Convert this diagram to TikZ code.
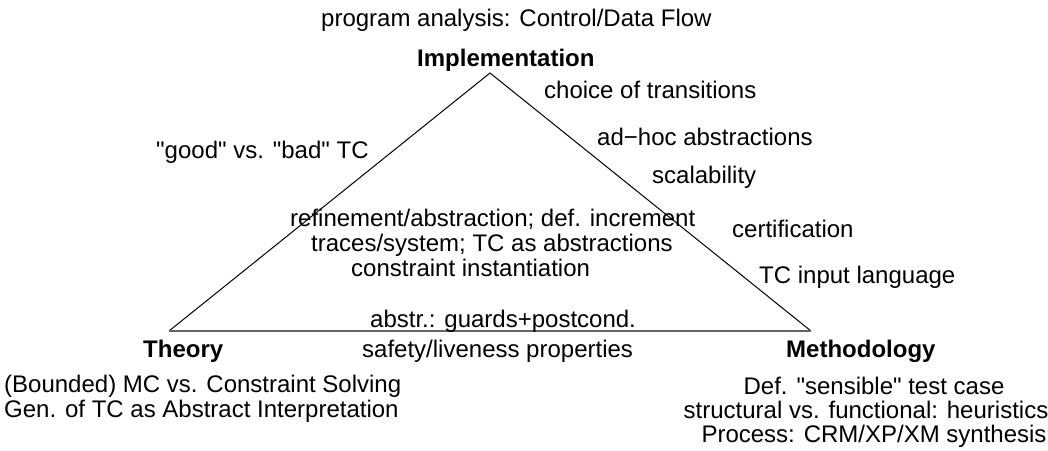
\documentclass[tikz,border=0pt]{standalone}
\usepackage{fontspec}
% plain family without TeX ligatures, so that " stays a straight quote
\newfontfamily\labelfont{Liberation Sans}
\begin{document}
\begin{tikzpicture}[x=1pt,y=-1pt,
  lbl/.style={inner sep=0pt,anchor=base west,font=\labelfont\fontsize{24}{24}\selectfont},
  clbl/.style={inner sep=0pt,anchor=base,font=\labelfont\fontsize{24}{24}\selectfont},
  corner/.style={inner sep=0pt,anchor=base west,font=\labelfont\fontsize{24}{24}\selectfont\bfseries},
  edge/.style={line width=1pt,black},
  baseedge/.style={line width=1.6pt,black!60}]
\useasboundingbox (0,0) rectangle (1048,450);

% triangle corners
\coordinate (top) at (490,73);
\coordinate (left) at (169,331);
\coordinate (right) at (811,331);
\draw[edge] (left) -- (top) -- (right);
\draw[baseedge] (left) -- (right);

% corner titles
\node[corner] (impl) at (417,66) {Implementation};
\node[corner] (theory) at (143,357) {Theory};
\node[corner] (meth) at (786,357) {Methodology};

% implementation side
\node[lbl] (prog) at (321,26) {program analysis: Control/Data Flow};
\node[lbl] (choice) at (544,98) {choice of transitions};
\node[lbl] (adhoc) at (597,145) {ad−hoc abstractions};
\node[lbl] (scal) at (652,183) {scalability};
\node[lbl] (cert) at (732,237) {certification};
\node[lbl] (tcin) at (759,283) {TC input language};
\node[lbl] (good) at (156,158) {"good" vs. "bad" TC};

% inside the triangle
\node[lbl] (refine) at (290,226) {refinement/abstraction; def. increment};
\node[lbl] (traces) at (311,251) {traces/system; TC as abstractions};
\node[lbl] (cinst) at (351,276) {constraint instantiation};
\node[lbl] (abstr) at (370,327) {abstr.: guards+postcond.};
\node[lbl] (safety) at (362,357) {safety/liveness properties};

% theory
\node[lbl] (bmc) at (4,392) {(Bounded) MC vs. Constraint Solving};
\node[lbl] (gen) at (4,417) {Gen. of TC as Abstract Interpretation};

% methodology
\node[clbl] (def) at (874,394) {Def. "sensible" test case};
\node[clbl] (struct) at (866,418) {structural vs. functional: heuristics};
\node[clbl] (proc) at (874,442) {Process: CRM/XP/XM synthesis};
\end{tikzpicture}
\end{document}
